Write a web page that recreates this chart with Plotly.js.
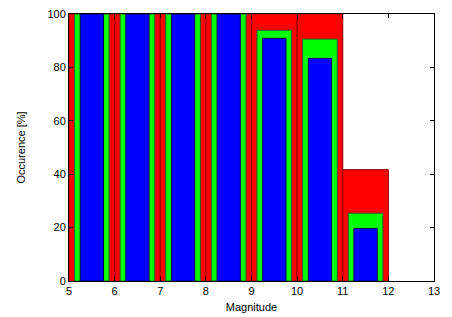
<!DOCTYPE html>
<html>
<head>
<meta charset="utf-8">
<script src="https://cdn.plot.ly/plotly-3.0.1.min.js"></script>
<style>html,body{margin:0;padding:0;background:#fff}#chart{width:452px;height:317px}</style>
</head>
<body>
<div id="chart"></div>
<script>
const binCenters = [5.5, 6.5, 7.5, 8.5, 9.5, 10.5, 11.5];
const redValues = [100, 100, 100, 100, 100, 100, 41.7];
const greenValues = [100, 100, 100, 100, 93.9, 90.6, 25.4];
const blueValues = [100, 100, 100, 100, 90.9, 83.4, 19.7];
const xTicks = [5, 6, 7, 8, 9, 10, 11, 12, 13];
const yTicks = [0, 20, 40, 60, 80, 100];

function series(y, color, edge, w) {
  return {
    type: 'bar', x: binCenters, y: y, width: w,
    marker: {color: color, line: {color: edge, width: 1}},
    hoverinfo: 'skip', showlegend: false
  };
}
const traces = [
  series(redValues, '#ff0000', '#8a0000', 1.0),
  series(greenValues, '#00ff00', '#2a5a2a', 0.76),
  series(blueValues, '#0000ff', '#00005a', 0.51)
];
const axisCommon = {
  showgrid: false, zeroline: false, showline: true, linecolor: '#000', linewidth: 1,
  mirror: 'ticks', ticks: 'inside', ticklen: 4, tickcolor: '#000', tickwidth: 1,
  tickfont: {family: 'Liberation Sans, Arial, sans-serif', size: 11, color: '#000'}
};
const layout = {
  width: 452, height: 317,
  margin: {l: 69, r: 18, t: 14, b: 36},
  paper_bgcolor: '#fff', plot_bgcolor: '#fff',
  barmode: 'overlay', bargap: 0,
  xaxis: Object.assign({}, axisCommon, {
    range: [5, 13], tickmode: 'array', tickvals: xTicks, ticktext: xTicks.map(String),
    title: {text: 'Magnitude', font: {family: 'Liberation Sans, Arial, sans-serif', size: 11, color: '#000'}, standoff: 7}
  }),
  yaxis: Object.assign({}, axisCommon, {
    range: [0, 100], tickmode: 'array', tickvals: yTicks, ticktext: yTicks.map(String),
    title: {text: 'Occurence [%]', font: {family: 'Liberation Sans, Arial, sans-serif', size: 11, color: '#000'}, standoff: 19}
  })
};
Plotly.newPlot('chart', traces, layout, {displayModeBar: false, staticPlot: true});
</script>
</body>
</html>
